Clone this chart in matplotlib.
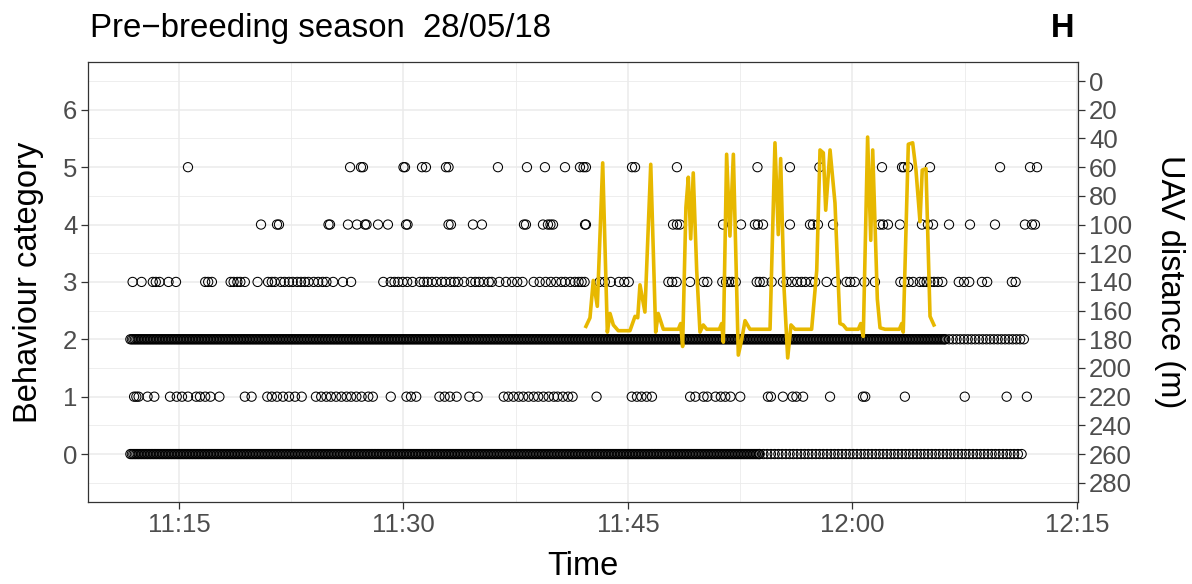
import numpy as np
import pandas as pd
import matplotlib
matplotlib.use("Agg")
import matplotlib.pyplot as plt
import matplotlib.dates as mdates
from matplotlib.ticker import MultipleLocator

plt.rcParams['font.family'] = ['Liberation Sans', 'DejaVu Sans']

# times are minutes after 11:00 on 28/05/18
day = pd.Timestamp('2018-05-28 11:00:00')

# dense behaviour rows: observation blocks (start, end, sampling step in min)
blocks_cat0 = [(11.75, 53.8, 0.1), (53.8, 71.35, 0.25)]
blocks_cat2 = [(11.75, 66.2, 0.1), (66.2, 71.7, 0.25)]

cat1 = [12.0, 12.15, 12.3, 12.9, 13.35, 14.4, 14.85, 15.2, 15.6, 16.15, 16.4,
        16.75, 17.1, 17.7, 19.4, 19.85, 20.9, 21.2, 21.55, 21.95, 22.35,
        22.75, 23.2, 24.15, 24.5, 24.85, 25.15, 25.5, 25.85, 26.2, 26.5, 26.85,
        27.2, 27.65, 27.95, 29.15, 30.2, 30.5, 30.85, 32.4, 32.75, 33.1, 33.55,
        34.4, 34.95, 36.7, 37.0, 37.35, 37.7, 38.0, 38.35, 38.7, 39.0, 39.35,
        39.7, 40.05, 40.3, 40.65, 41.0, 41.3, 42.9, 45.25, 45.6, 45.9, 46.25,
        46.6, 49.15, 49.5, 50.05, 50.3, 50.85, 51.2, 51.5, 51.85, 52.5, 54.35,
        54.55, 55.35, 56.0, 56.25, 56.7, 58.5, 60.7, 60.85, 63.5, 67.5, 70.3,
        71.65]

cat3 = [11.9, 12.5, 13.25, 13.45, 13.7, 14.3, 14.8, 16.75, 16.95, 17.2, 18.45,
        18.65, 18.9, 19.1, 19.4, 20.25, 20.95, 21.2, 21.4, 21.8, 22.05, 22.35,
        22.6, 22.9, 23.15, 23.4, 23.65, 24.0, 24.3, 24.6, 24.85, 25.3, 25.95,
        26.5, 28.65, 29.15, 29.4, 29.65, 29.95, 30.25, 30.6, 31.1, 31.35, 31.6,
        31.9, 32.2, 32.55, 32.8, 33.15, 33.4, 33.65, 34.05, 34.5, 34.8, 35.05,
        35.35, 35.7, 35.9, 36.4, 36.85, 37.25, 37.6, 37.95, 38.7, 39.1, 39.5,
        39.85, 40.2, 40.55, 40.8, 41.15, 41.45, 41.7, 41.9, 42.1, 43.1, 43.45,
        43.85, 44.4, 44.75, 45.05, 47.7, 47.95, 48.25, 49.15, 50.05, 50.3, 51.3,
        51.55, 51.75, 51.95, 52.2, 53.6, 53.8, 54.05, 54.6, 55.35, 55.6, 55.95,
        56.3, 56.6, 56.85, 57.2, 57.5, 58.27, 58.9, 59.6, 59.85, 60.15, 60.8,
        61.5, 63.2, 63.45, 63.75, 64.05, 64.5, 64.75, 64.95, 65.2, 65.45, 65.7,
        66.0, 67.1, 67.45, 67.8, 68.65, 69.0, 70.65, 70.9]

cat4 = [20.48, 21.55, 21.68, 24.99, 25.09, 26.29, 26.89, 27.43, 27.53, 28.3,
        28.96, 30.17, 30.27, 33.01, 33.17, 34.64, 35.24, 38.05, 38.18, 39.32,
        39.65, 39.82, 39.99, 42.13, 42.19, 48.01, 48.27, 48.47, 51.35, 52.55,
        53.48, 53.68, 54.02, 55.82, 57.16, 57.36, 57.69, 58.7, 61.84, 62.04,
        62.37, 63.17, 64.64, 65.04, 65.38, 66.45, 67.85, 69.52, 71.52, 71.99,
        72.19]

cat5 = [15.6, 26.43, 27.16, 27.29, 30.0, 30.1, 31.24, 31.5, 32.84, 33.01,
        36.31, 38.25, 39.45, 40.79, 41.79, 42.03, 42.19, 45.27, 45.47, 48.27,
        53.65, 55.82, 57.79, 61.97, 63.31, 63.44, 63.71, 65.18, 69.86, 71.86,
        72.33]

# UAV distance track (m)
uav_min = [42.19, 42.46, 42.68, 42.95, 43.31, 43.62, 43.80, 44.02, 44.35, 45.13,
           45.47, 45.65, 45.80, 46.13, 46.52, 46.85, 47.02, 47.36, 48.36, 48.52,
           48.65, 48.87, 49.03, 49.19, 49.36, 49.59, 49.81, 50.03, 50.26, 51.10,
           51.26, 51.37, 51.59, 51.81, 52.04, 52.37, 52.60, 52.82, 53.15, 54.49,
           54.82, 55.04, 55.20, 55.42, 55.67, 55.89, 56.16, 57.27, 57.61, 57.83,
           58.05, 58.21, 58.50, 58.83, 59.16, 59.38, 59.61, 60.39, 60.55, 60.72,
           61.01, 61.22, 61.35, 61.66, 61.84, 62.17, 63.13, 63.29, 63.39, 63.73,
           64.02, 64.24, 64.51, 64.66, 64.91, 65.18, 65.44]
uav_dist = [171, 165, 139, 157, 57, 175, 162, 170, 174, 174,
            164, 165, 142, 161, 58, 175, 162, 173, 173, 169,
            185, 88, 67, 110, 64, 132, 175, 170, 173, 173,
            169, 182, 51, 108, 51, 191, 180, 167, 173, 173,
            43, 107, 54, 143, 193, 170, 173, 173, 132, 48,
            50, 90, 48, 85, 169, 170, 173, 173, 169, 178,
            39, 111, 48, 152, 172, 173, 173, 169, 175, 44,
            43, 62, 98, 62, 61, 164, 170]


def to_time(mins):
    return day + pd.to_timedelta(np.asarray(mins), unit='m')


def expand(blocks):
    out = []
    for a, b, step in blocks:
        out.extend(np.arange(a, b, step))
    return out


fig = plt.figure(figsize=(11.92, 5.84), dpi=100)
ax = fig.add_axes([0.0742, 0.1400, 0.8302, 0.7545])

rows = {0: expand(blocks_cat0), 1: cat1, 2: expand(blocks_cat2),
        3: cat3, 4: cat4, 5: cat5}
for cat, mins in rows.items():
    ax.scatter(to_time(mins), np.full(len(mins), cat), s=44, facecolors='none',
               edgecolors='black', linewidths=0.75, zorder=3)

ax.set_ylim(-0.84, 6.84)
ax.set_xlim(to_time(8.95), to_time(75.07))
ax.yaxis.set_major_locator(MultipleLocator(1))
ax.yaxis.set_minor_locator(MultipleLocator(0.5))
ax.xaxis.set_major_locator(mdates.MinuteLocator(byminute=[0, 15, 30, 45]))
ax.xaxis.set_major_formatter(mdates.DateFormatter('%H:%M'))

# minor x grid half way between the 15 min ticks
for m in [7.5, 22.5, 37.5, 52.5, 67.5]:
    ax.axvline(to_time(m), color='#EBEBEB', lw=0.6, zorder=0)
ax.grid(True, which='major', color='#EBEBEB', lw=1.1, zorder=0)
ax.grid(True, which='minor', axis='y', color='#EBEBEB', lw=0.6, zorder=0)
ax.tick_params(which='minor', length=0)
ax.tick_params(which='major', length=5, width=0.9, color='#333333',
               labelsize=18.5, labelcolor='#4D4D4D', pad=3)
for s in ax.spines.values():
    s.set_color('#333333')
    s.set_linewidth(0.9)

ax.set_xlabel('Time', fontsize=23.5, labelpad=10)
ax.set_ylabel('Behaviour category', fontsize=23.5, labelpad=14)

ax2 = ax.twinx()
ax2.set_ylim(260 + 40 * 0.84, 260 - 40 * 6.84)
ax2.yaxis.set_major_locator(MultipleLocator(20))
ax2.plot(to_time(uav_min), uav_dist, color='#E7B800', lw=2.6, zorder=4)
ax2.tick_params(length=5, width=0.9, color='#333333', labelsize=18.5,
                labelcolor='#4D4D4D', pad=3)
ax2.set_ylabel('UAV distance (m)', fontsize=23.5, rotation=270, labelpad=38)
for s in ax2.spines.values():
    s.set_visible(False)

fig.text(0.0755, 0.937, 'Pre\u2212breeding season  28/05/18', fontsize=23.8,
         ha='left', va='baseline')
fig.text(0.901, 0.937, 'H', fontsize=23.5, fontweight='bold', ha='right',
         va='baseline')

fig.savefig('out.png', dpi=100)
